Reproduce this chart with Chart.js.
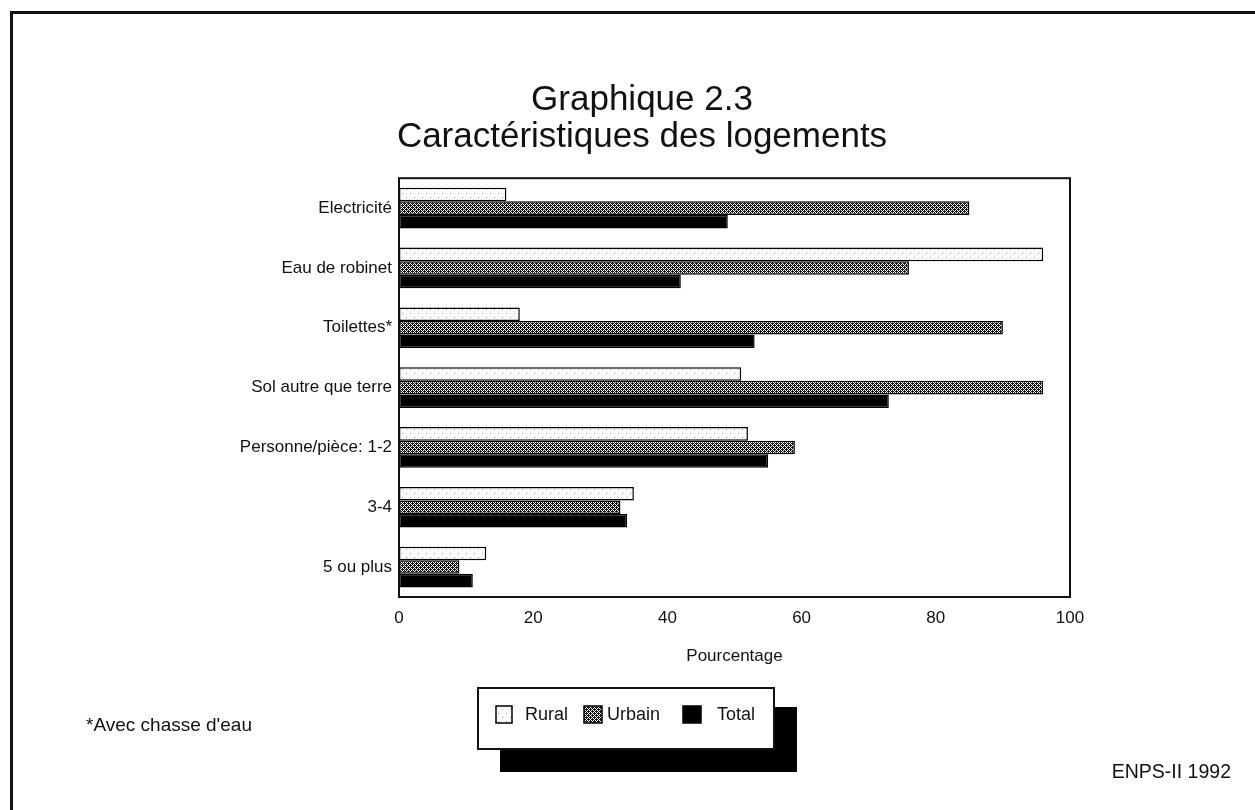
<!DOCTYPE html>
<html>
<head>
<meta charset="utf-8">
<script src="https://cdn.jsdelivr.net/npm/chart.js@4"></script>
<style>
  html, body { margin: 0; padding: 0; background: #fff; }
  #c { display: block; }
</style>
</head>
<body>
<canvas id="c" width="1255" height="810"></canvas>
<script>
const titleLines = ["Graphique 2.3", "Caractéristiques des logements"];
const categories = ["Electricité", "Eau de robinet", "Toilettes*", "Sol autre que terre", "Personne/pièce: 1-2", "3-4", "5 ou plus"];
const seriesNames = ["Rural", "Urbain", "Total"];
const rural = [16, 96, 18, 51, 52, 35, 13];
const urbain = [85, 76, 90, 96, 59, 33, 9];
const total = [49, 42, 53, 73, 55, 34, 11];
const xTicks = [0, 20, 40, 60, 80, 100];
const xTitle = "Pourcentage";
const footnote = "*Avec chasse d'eau";
const source = "ENPS-II 1992";

const INK = '#111';
const FONT = "'Liberation Sans', Arial, sans-serif";

function makePattern(rows, on, off) {
  const h = rows.length, w = rows[0].length;
  const cv = document.createElement('canvas');
  cv.width = w; cv.height = h;
  const g = cv.getContext('2d');
  g.fillStyle = off; g.fillRect(0, 0, w, h);
  for (let y = 0; y < h; y++) for (let x = 0; x < w; x++) {
    const ch = rows[y][x];
    if (ch === '#') { g.fillStyle = on; g.fillRect(x, y, 1, 1); }
    else if (ch === '+') { g.fillStyle = '#aaa'; g.fillRect(x, y, 1, 1); }
  }
  return document.getElementById('c').getContext('2d').createPattern(cv, 'repeat');
}

const ruralFill = makePattern([
  "........",
  "..+.....",
  "........",
  "........",
  "........",
  "......+.",
  "........",
  "........"], '#000', '#fff');
const urbainFill = makePattern([
  "#.#.",
  ".###",
  "#.#.",
  "##.#"], '#111', '#fff');
const fills = [ruralFill, urbainFill, '#000'];

const framePlugin = {
  id: 'frame',
  beforeDraw(chart) {
    const ctx = chart.ctx;
    ctx.save();
    ctx.fillStyle = '#fff';
    ctx.fillRect(0, 0, chart.width, chart.height);
    ctx.fillStyle = INK;
    ctx.fillRect(10, 11, 3, chart.height);
    ctx.fillRect(10, 11, chart.width, 3);
    ctx.restore();
  },
  afterDatasetsDraw(chart) {
    const a = chart.chartArea, ctx = chart.ctx;
    ctx.save();
    ctx.strokeStyle = INK;
    ctx.lineWidth = 2;
    ctx.strokeRect(a.left, a.top, a.right - a.left, a.bottom - a.top);
    ctx.restore();
  },
  afterDraw(chart) {
    const ctx = chart.ctx;
    ctx.save();
    // legend box with shadow
    ctx.fillStyle = '#000';
    ctx.fillRect(500, 707, 297, 65);
    ctx.fillStyle = '#fff';
    ctx.fillRect(478, 688, 296, 61);
    ctx.strokeStyle = INK; ctx.lineWidth = 2;
    ctx.strokeRect(478, 688, 296, 61);
    const items = [
      { x: 496, w: 16, tx: 525 },
      { x: 584, w: 18, tx: 607 },
      { x: 683, w: 18, tx: 717 }
    ];
    ctx.font = "18px " + FONT;
    ctx.textBaseline = 'middle';
    items.forEach((it, i) => {
      ctx.fillStyle = fills[i];
      ctx.fillRect(it.x, 706, it.w, 17);
      ctx.lineWidth = 1.5; ctx.strokeStyle = '#000';
      ctx.strokeRect(it.x, 706, it.w, 17);
      ctx.fillStyle = INK;
      ctx.fillText(chart.data.datasets[i].label, it.tx, 715);
    });
    // footnote and source
    ctx.font = "19px " + FONT;
    ctx.fillStyle = INK;
    ctx.textBaseline = 'middle';
    ctx.textAlign = 'left';
    ctx.fillText(footnote, 86, 726);
    ctx.font = "19.5px " + FONT;
    ctx.textAlign = 'right';
    ctx.fillText(source, 1231, 773);
    ctx.restore();
  }
};

new Chart(document.getElementById('c'), {
  type: 'bar',
  data: {
    labels: categories,
    datasets: [
      { label: seriesNames[0], data: rural, backgroundColor: fills[0] },
      { label: seriesNames[1], data: urbain, backgroundColor: fills[1] },
      { label: seriesNames[2], data: total, backgroundColor: fills[2] }
    ].map(d => Object.assign(d, { borderColor: '#000', borderWidth: 1.5, borderSkipped: false, categoryPercentage: 0.68, barPercentage: 1 }))
  },
  options: {
    indexAxis: 'y',
    responsive: false,
    animation: false,
    devicePixelRatio: 1,
    layout: { padding: { left: 214, right: 185, top: 0, bottom: 113 } },
    plugins: {
      legend: { display: false },
      tooltip: { enabled: false },
      title: {
        display: true,
        text: titleLines,
        color: INK,
        font: { family: FONT, size: 35, weight: 'normal', lineHeight: 1.06 },
        padding: { top: 81.5, bottom: 22.5 }
      }
    },
    scales: {
      x: {
        min: 0, max: 100,
        afterFit: s => { s.height = 100; },
        afterBuildTicks: s => { s.ticks = xTicks.map(v => ({ value: v })); },
        grid: { display: false, drawTicks: false },
        border: { display: false },
        ticks: { color: INK, padding: 11, font: { family: FONT, size: 17 } },
        title: { display: true, text: xTitle, color: INK, font: { family: FONT, size: 17 }, padding: { top: 0, bottom: 30 } }
      },
      y: {
        afterFit: s => { s.width = 185; },
        grid: { display: false, drawTicks: false },
        border: { display: false },
        ticks: { color: INK, padding: 7, font: { family: FONT, size: 17 } }
      }
    }
  },
  plugins: [framePlugin]
});
</script>
</body>
</html>
